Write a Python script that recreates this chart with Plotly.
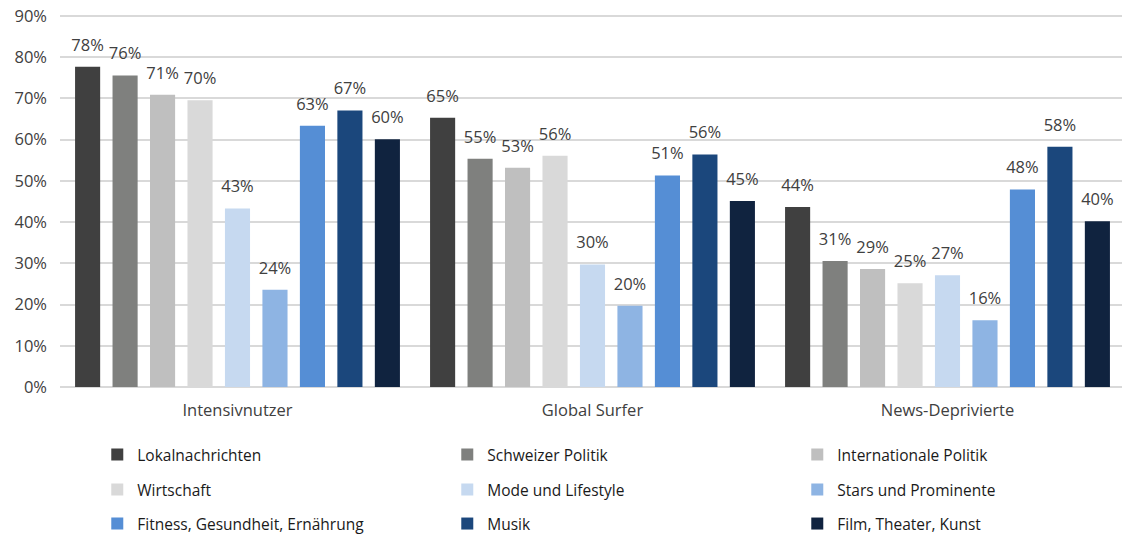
import plotly.graph_objects as go

groups = ["Intensivnutzer", "Global Surfer", "News-Deprivierte"]
series = [
    "Lokalnachrichten", "Schweizer Politik", "Internationale Politik",
    "Wirtschaft", "Mode und Lifestyle", "Stars und Prominente",
    "Fitness, Gesundheit, Ernährung", "Musik", "Film, Theater, Kunst",
]
lokal = [0.777, 0.653, 0.437]
schweiz = [0.756, 0.554, 0.306]
international = [0.709, 0.532, 0.286]
wirtschaft = [0.696, 0.561, 0.252]
mode = [0.433, 0.297, 0.271]
stars = [0.236, 0.197, 0.162]
fitness = [0.634, 0.513, 0.479]
musik = [0.671, 0.564, 0.583]
film = [0.601, 0.451, 0.402]
values = [lokal, schweiz, international, wirtschaft, mode, stars, fitness, musik, film]
colors = ["#404040", "#7f807e", "#bfbfbf", "#d9d9d9", "#c6d9f0",
          "#8eb4e3", "#558ed5", "#1b477c", "#10233f"]
y_ticks = [0, 0.1, 0.2, 0.3, 0.4, 0.5, 0.6, 0.7, 0.8, 0.9]

FONT = "Open Sans"
TXT = "#404040"

fig = go.Figure()
legend_ids = ["legend", "legend", "legend", "legend2", "legend2", "legend2",
              "legend3", "legend3", "legend3"]
for i, (name, vals, col, lg) in enumerate(zip(series, values, colors, legend_ids)):
    fig.add_trace(go.Bar(
        x=groups, y=vals, name=name, offsetgroup=str(i),
        marker=dict(color=col, line=dict(width=0)),
        legend=lg,
    ))
# value labels, placed through the same grouped category positions
for i, (name, vals) in enumerate(zip(series, values)):
    fig.add_trace(go.Scatter(
        x=groups, y=vals, offsetgroup=str(i), mode="markers+text",
        marker=dict(size=17.6, opacity=0),
        texttemplate="%{y:.0%}", textposition="top center",
        textfont=dict(family=FONT, size=16.5, color=TXT),
        showlegend=False, hoverinfo="skip", cliponaxis=False,
    ))

legend_common = dict(orientation="h", entrywidth=305, entrywidthmode="pixels",
                     xanchor="left", yanchor="middle",
                     font=dict(family=FONT, size=15.5, color="#1a1a1a"),
                     bgcolor="rgba(0,0,0,0)", itemwidth=30)
fig.update_layout(
    width=1122, height=529,
    margin=dict(l=52, r=5, t=5.9, b=150, autoexpand=False),
    paper_bgcolor="white", plot_bgcolor="white",
    barmode="group", bargap=0.05, bargroupgap=0.33,
    scattermode="group", scattergap=0.05,
    font=dict(family=FONT, color=TXT),
    xaxis=dict(tickfont=dict(family=FONT, size=16.5, color=TXT), showline=False,
               ticks="", ticklabelstandoff=11),
    yaxis=dict(range=[0, 0.905], tickvals=y_ticks, tickformat=".0%",
               tickfont=dict(family=FONT, size=16.5, color=TXT),
               ticklabeloverflow="allow",
               showgrid=True, gridcolor="#d9d9d9", gridwidth=1.5,
               zeroline=True, zerolinecolor="#d9d9d9", zerolinewidth=1.5,
               ticks="", ticklen=0, ticklabelstandoff=12),
    legend=dict(x=0.035, y=-0.1823, **legend_common),
    legend2=dict(x=0.035, y=-0.2761, **legend_common),
    legend3=dict(x=0.035, y=-0.3672, **legend_common),
)
fig.write_html("out.html")
